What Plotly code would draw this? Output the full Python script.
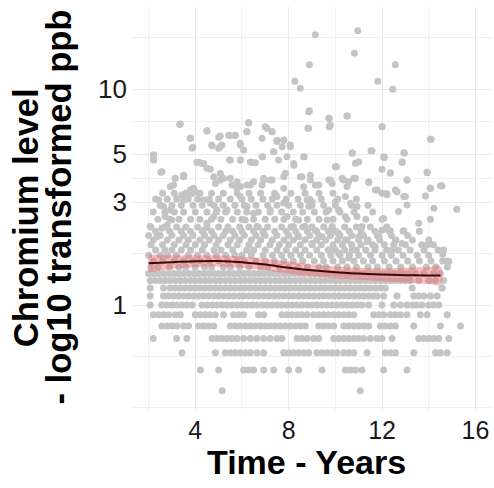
import plotly.graph_objects as go

# ---- data: quantised rows (value -> years) ----
row_0_4 = [5.15, 11.07]
row_0_5 = [4.22, 5.0, 6.07, 6.29, 6.5, 6.93, 7.36, 8.0, 8.43, 9.43, 10.43, 10.64, 10.86, 11.14, 12.07, 13.07]
row_0_6 = [3.43, 4.86, 5.29, 5.5, 5.72, 5.93, 6.14, 6.36, 6.64, 6.93, 7.79, 8.0, 8.21, 8.43, 8.64, 8.86, 9.21, 9.43,
           9.64, 9.86, 10.07, 10.36, 10.57, 10.79, 11.36, 12.14, 12.36, 12.57, 13.36, 14.29, 14.5, 14.79]
row_0_7 = [2.2, 3.2, 3.64, 4.72, 4.93, 5.14, 5.36, 5.57, 5.79, 6.07, 6.36, 6.64, 6.93, 7.21, 7.5, 7.71, 8.36, 8.57,
           8.79, 9.07, 9.29, 9.93, 10.14, 10.36, 10.57, 10.79, 11.0, 11.21, 11.5, 11.79, 12.0, 12.43, 13.57, 13.79,
           14.0, 14.21, 14.43, 14.86]
row_0_8 = [2.57, 2.79, 3.0, 3.21, 3.5, 3.71, 4.14, 4.36, 4.57, 4.79, 5.5, 5.72, 5.93, 6.14, 6.36, 6.57, 6.79, 7.0,
           7.21, 7.43, 7.64, 7.86, 8.07, 8.29, 8.5, 8.71, 9.29, 9.5, 9.71, 9.93, 10.36, 10.57, 10.79, 11.0, 11.21,
           11.43, 11.93, 12.14, 12.36, 12.57, 13.36, 14.5, 15.36]
row_0_9 = [2.2, 2.43, 2.64, 2.86, 3.14, 3.36, 4.0, 4.22, 4.43, 4.64, 4.86, 5.21, 5.64, 5.86, 6.07, 6.71, 6.93, 7.71,
           7.93, 8.14, 8.36, 8.57, 8.79, 9.07, 9.29, 9.5, 9.71, 9.93, 10.14, 10.36, 10.57, 10.79, 11.64, 11.86,
           12.07, 12.36, 12.57, 12.79, 13.07, 13.64, 13.93, 14.79]
row_1_0 = [2.07, 2.57, 2.79, 3.0, 3.21, 3.43, 3.64, 3.86, 4.29, 4.5, 4.71, 4.93, 5.14, 5.36, 5.57, 5.79, 6.0, 6.21,
           6.43, 6.64, 6.86, 7.07, 7.29, 7.5, 7.71, 7.93, 8.14, 8.36, 8.57, 8.79, 9.0, 9.21, 9.43, 9.64, 9.86, 10.07,
           10.29, 10.5, 10.71, 10.93, 11.14, 11.43, 12.0, 12.5, 12.79, 13.07, 13.29, 13.5, 13.71, 14.0, 14.21, 14.43]
row_1_1 = [2.07, 2.64, 2.86, 3.07, 3.29, 3.5, 3.71, 3.93, 4.14, 4.36, 4.57, 4.79, 5.0, 5.21, 5.43, 5.64, 5.86, 6.07,
           6.29, 6.5, 6.71, 6.93, 7.14, 7.36, 7.57, 7.79, 8.0, 8.21, 8.43, 8.64, 8.86, 9.07, 9.29, 9.5, 9.71, 9.93,
           10.14, 10.36, 10.57, 10.79, 11.0, 11.21, 11.43, 11.64, 11.79, 12.07, 12.64, 13.36, 13.57, 13.79, 14.07, 14.36]
row_1_2 = [2.07, 2.64, 2.93, 3.14, 3.36, 3.57, 3.79, 4.0, 4.21, 4.43, 4.64, 4.86, 5.07, 5.29, 5.5, 5.71, 5.93, 6.14,
           6.36, 6.57, 6.79, 7.0, 7.21, 7.43, 7.64, 7.86, 8.07, 8.29, 8.5, 8.71, 8.93, 9.14, 9.36, 9.57, 9.79, 10.0,
           10.21, 10.43, 10.64, 10.86, 11.07, 11.29, 11.5, 11.71, 11.93, 12.14, 13.29, 14.57]
row_1_3 = [2.07, 2.29, 2.5, 2.71, 2.93, 3.14, 3.36, 3.57, 3.79, 4.0, 4.21, 4.43, 4.64, 4.86, 5.07, 5.29, 5.5, 5.71,
           5.93, 6.14, 6.36, 6.57, 6.79, 7.0, 7.21, 7.43, 7.64, 7.86, 8.07, 8.29, 8.5, 8.71, 8.93, 9.14, 9.36, 9.57,
           9.79, 10.0, 10.21, 10.43, 10.64, 10.86, 11.07, 11.29, 11.5, 11.71, 11.93, 12.14, 12.36, 12.57, 12.79, 13.0,
           13.21, 13.57, 14.0, 14.29]
row_1_4 = [2.0, 2.21, 2.43, 2.64, 2.86, 3.07, 3.29, 3.5, 3.71, 3.93, 4.14, 4.36, 4.57, 4.79, 5.0, 5.21, 5.43, 5.64,
           5.86, 6.07, 6.29, 6.5, 6.71, 6.93, 7.14, 7.36, 7.57, 7.79, 8.0, 8.21, 8.43, 8.64, 8.86, 9.07, 9.29, 9.5,
           9.71, 9.93, 10.14, 10.36, 10.57, 10.79, 11.0, 11.21, 11.43, 11.64, 11.86, 12.07, 12.29, 12.5, 12.71, 12.93,
           13.14, 13.43, 13.79, 14.21, 14.5]
row_1_5 = [2.1, 2.4, 2.9, 3.3, 3.6, 4.0, 4.4, 4.7, 5.2, 5.5, 5.9, 6.3, 6.8, 7.1, 7.6, 8.0, 8.4, 8.8, 9.3, 9.6, 10.1,
           10.5, 10.9, 11.4, 11.8, 12.3, 12.8, 13.3, 13.9, 14.3, 14.8]
row_1_6 = [2.2, 2.6, 3.1, 3.5, 3.9, 4.2, 4.6, 5.0, 5.4, 5.8, 6.1, 6.6, 7.0, 7.4, 7.8, 8.2, 8.6, 9.1, 9.5, 9.9, 10.3,
           10.8, 11.2, 11.6, 12.1, 12.6, 13.1, 13.6, 14.1, 14.6]
row_1_7 = [2.0, 2.5, 2.8, 3.2, 3.7, 4.1, 4.5, 4.9, 5.3, 5.7, 6.0, 6.4, 6.9, 7.3, 7.7, 8.1, 8.5, 8.9, 9.4, 9.8, 10.2,
           10.6, 11.0, 11.5, 12.0, 12.4, 12.9, 13.5, 14.0]
row_1_8 = [2.3, 2.7, 3.0, 3.4, 3.8, 4.3, 4.8, 5.1, 5.6, 6.2, 6.5, 7.0, 7.5, 7.9, 8.3, 8.7, 9.2, 9.7, 10.0, 10.4, 10.9,
           11.3, 11.7, 12.2, 12.7, 13.2, 13.8, 14.4]
row_1_9 = [2.1, 2.6, 3.1, 3.6, 4.0, 4.4, 4.9, 5.4, 5.8, 6.3, 6.7, 7.2, 7.6, 8.0, 8.5, 9.0, 9.4, 9.9, 10.3, 10.7, 11.1,
           11.6, 12.1, 12.5, 13.0, 13.7, 14.2]
row_2_0 = [2.2, 2.8, 3.3, 3.7, 4.2, 4.6, 5.0, 5.5, 5.9, 6.4, 6.8, 7.3, 7.8, 8.2, 8.7, 9.2, 9.6, 10.1, 10.5, 11.0,
           11.4, 11.9, 12.6, 13.3, 14.0]
row_2_1 = [2.0, 2.5, 3.0, 3.5, 3.9, 4.4, 4.8, 5.2, 5.7, 6.1, 6.6, 7.0, 7.5, 8.0, 8.4, 8.9, 9.3, 9.8, 10.2, 10.7,
           11.2, 11.8, 12.4, 13.1]
row_2_2 = [2.3, 2.9, 3.4, 3.8, 4.3, 4.7, 5.3, 5.6, 6.0, 6.5, 6.9, 7.4, 7.9, 8.3, 8.8, 9.2, 9.7, 10.0, 10.6, 11.1,
           11.7, 12.3, 12.9, 13.6]
row_2_3 = [2.1, 2.7, 3.2, 3.6, 4.1, 4.5, 5.0, 5.4, 5.9, 6.3, 6.7, 7.1, 7.7, 8.1, 8.6, 9.0, 9.5, 10.4, 10.9, 11.5, 12.2]
row_2_5 = [2.4, 2.9, 3.3, 3.8, 4.2, 4.7, 5.1, 5.6, 6.0, 6.5, 7.0, 7.4, 7.8, 8.3, 8.8, 9.3, 9.9, 10.5, 11.3, 12.0]
row_2_7 = [2.2, 2.7, 3.1, 3.5, 4.0, 4.5, 4.9, 5.3, 5.8, 6.2, 6.7, 7.2, 7.7, 8.2, 8.6, 9.1, 9.6, 10.2, 10.8, 11.6]
row_2_9 = [2.5, 3.0, 3.4, 3.9, 4.3, 4.8, 5.2, 5.7, 6.1, 6.6, 7.1, 7.5, 8.0, 8.5, 9.0, 9.5, 10.0, 10.7, 11.4]
row_3_1 = [2.3, 2.8, 3.2, 3.7, 4.1, 4.6, 5.0, 5.5, 6.0, 6.4, 6.9, 7.3, 7.9, 8.4, 8.9, 9.4, 10.1, 10.9]
row_3_3 = [2.6, 3.1, 3.6, 4.2, 4.7, 5.2, 5.8, 6.3, 6.8, 7.4, 8.1, 8.7, 9.3, 9.9]

row_levels = [0.4, 0.5, 0.6, 0.7, 0.8, 0.9, 1.0, 1.1, 1.2, 1.3, 1.4, 1.5, 1.6, 1.7, 1.8, 1.9, 2.0, 2.1, 2.2, 2.3,
              2.5, 2.7, 2.9, 3.1, 3.3]
row_years = [row_0_4, row_0_5, row_0_6, row_0_7, row_0_8, row_0_9, row_1_0, row_1_1, row_1_2, row_1_3, row_1_4,
             row_1_5, row_1_6, row_1_7, row_1_8, row_1_9, row_2_0, row_2_1, row_2_2, row_2_3, row_2_5, row_2_7,
             row_2_9, row_3_1, row_3_3]

# ---- scattered higher values ----
upper_x = [9.14, 10.96, 10.82, 8.89, 12.57, 8.26, 8.5, 11.82, 12.46, 8.89, 9.74, 9.74, 10.5, 12.0, 8.82, 14.1,
           3.33, 6.29, 4.5, 3.79, 3.9, 2.22, 2.22, 2.53, 10.72, 11.53, 12.1, 12.96, 12.86, 13.93, 14.5, 14.07,
           13.07, 12.36, 10.05, 8.67, 8.23, 7.86, 7.36, 8.07, 4.07, 4.29, 4.5, 5.47, 5.93, 6.43, 6.89, 5.0, 5.43,
           5.72, 4.72, 5.07, 5.93, 6.07, 6.86, 7.07, 7.29, 7.5, 7.79, 7.72, 8.07, 6.21, 6.86, 6.93, 7.29, 7.79,
           8.5, 8.93, 9.29, 9.79, 10.36, 10.79, 10.5, 11.43, 11.79, 12.2, 12.64, 12.93, 3.14, 3.5, 2.93, 3.79,
           4.0, 4.79, 4.86, 5.07, 5.57, 5.79, 6.21, 6.5,
           8.86, 9.72, 9.79, 10.5, 8.86, 12.0, 14.07, 8.64, 10.72, 11.57, 12.93, 12.07, 10.86, 11.0, 10.0, 12.86,
           12.0, 12.36, 13.93, 14.57, 14.07, 8.57, 8.93, 9.14, 8.64, 9.72, 9.86, 10.29, 10.57, 10.86, 11.43, 11.71,
           12.0, 12.21, 12.57, 13.07, 13.0, 13.86, 14.22, 15.2, 13.07, 12.71, 14.07, 13.57, 12.07, 12.93, 12.36,
           13.93, 14.64, 14.86, 8.79, 8.86, 9.0, 10.0, 10.14, 9.72, 9.65, 10.43, 10.65, 10.93, 10.93, 10.43, 11.14,
           11.0, 11.36, 12.0, 11.86, 11.71, 12.57, 12.86, 12.43, 8.43, 8.71, 9.14, 8.43, 9.0, 9.43, 9.86, 10.14,
           10.43, 9.72, 10.14, 10.72, 10.57,
           3.36, 6.29, 4.5, 5.07, 3.79, 5.5, 5.7, 7.0, 7.29, 6.21, 4.71, 5.0, 5.14, 3.86, 5.93, 7.5, 7.79, 8.07,
           2.21, 2.21, 7.36, 5.5, 5.93, 6.36, 6.57, 6.86, 7.57, 7.93, 8.21, 4.14, 4.36, 4.64, 2.57, 3.14, 3.5, 3.07,
           5.07, 5.21, 3.93, 3.86, 3.43, 3.5, 5.5, 5.79, 5.93, 6.36, 6.93, 7.21, 7.79, 2.43, 2.64, 2.93, 2.71, 3.0,
           2.07, 2.36, 2.57, 2.79, 4.36, 4.64, 4.93, 5.36, 4.79, 4.5, 4.36, 5.93, 6.21, 6.5, 6.14, 6.64, 6.93, 7.21,
           7.5, 7.79, 7.93, 8.21, 14.6, 14.79, 14.64, 14.57]
upper_y = [17.9, 18.7, 14.7, 13.0, 13.0, 10.9, 10.1, 10.9, 10.0, 7.96, 7.34, 6.71, 7.52, 6.71, 6.6, 5.86,
           6.87, 7.0, 6.4, 5.93, 5.38, 4.96, 4.7, 4.12, 5.05, 5.19, 4.83, 5.05, 4.58, 4.12, 3.57, 3.48,
           3.8, 4.08, 4.38, 4.87, 4.45, 4.08, 5.13, 5.47, 4.58, 4.53, 4.3, 4.7, 4.7, 4.58, 4.87, 6.0, 6.13,
           6.13, 5.47, 5.42, 5.62, 5.23, 5.93, 6.6, 6.36, 5.8, 5.8, 5.42, 5.42, 6.36, 3.6, 3.8, 3.8, 3.93,
           3.93, 3.8, 3.6, 3.8, 3.8, 3.87, 3.54, 3.7, 3.41, 3.29, 3.35, 3.18, 3.87, 4.0, 3.54, 3.41,
           3.35, 3.93, 3.66, 3.8, 3.6, 3.48, 3.6, 3.73,
           7.87, 7.34, 6.83, 7.52, 6.6, 6.71, 5.86, 4.87, 5.08, 5.19, 5.08, 4.87, 4.54, 4.62, 4.38, 4.62,
           4.26, 4.1, 4.1, 3.56, 3.48, 3.93, 4.0, 3.6, 3.53, 3.8, 3.66, 3.87, 3.73, 3.87, 3.73, 3.41,
           3.3, 3.24, 3.41, 3.8, 3.18, 3.2, 2.81, 2.78, 2.91, 2.71, 2.5, 2.39, 2.52, 2.21, 2.21,
           1.9, 1.8, 1.59, 3.07, 2.86, 3.01, 3.01, 2.76, 2.76, 2.48, 3.18, 2.96, 2.86, 2.57, 2.57, 2.31,
           2.07, 1.97, 2.22, 2.07, 1.86, 2.0, 1.93, 1.8, 2.48, 2.31, 2.22, 2.07, 1.93, 2.07, 2.31, 2.15,
           2.0, 1.8, 1.74, 1.8, 1.65,
           6.9, 7.0, 6.43, 6.07, 5.93, 6.1, 6.1, 6.7, 6.36, 6.36, 5.52, 5.33, 5.52, 5.33, 5.52, 5.72, 5.82, 5.52,
           4.96, 4.7, 5.13, 4.7, 4.7, 4.6, 4.56, 4.87, 4.7, 4.87, 4.53, 4.6, 4.53, 4.26, 4.15, 3.87, 3.93, 3.6,
           4.07, 3.87, 3.48, 3.29, 3.24, 3.07, 3.87, 3.73, 3.54, 3.6, 3.87, 3.8, 3.48, 3.07, 2.86, 2.76, 2.57, 2.48,
           2.31, 2.07, 2.27, 2.35, 3.07, 2.97, 2.76, 2.76, 2.57, 2.4, 2.22, 3.18, 2.86, 2.66, 2.48, 2.31, 2.15, 2.76,
           3.18, 2.97, 2.57, 2.31, 1.72, 1.6, 1.3, 1.2]

# ---- smoothed trend with confidence band ----
fit_x = [2.0, 3.0, 4.0, 5.0, 6.0, 7.0, 8.0, 9.0, 10.0, 11.0, 12.0, 13.0, 14.0, 14.5]
fit_y = [1.56, 1.58, 1.595, 1.60, 1.58, 1.54, 1.49, 1.45, 1.42, 1.40, 1.385, 1.375, 1.37, 1.37]
fit_lo = [1.42, 1.47, 1.50, 1.51, 1.49, 1.45, 1.40, 1.36, 1.33, 1.31, 1.29, 1.27, 1.25, 1.24]
fit_hi = [1.72, 1.70, 1.70, 1.70, 1.68, 1.64, 1.59, 1.54, 1.51, 1.49, 1.48, 1.49, 1.50, 1.51]

x_ticks = [4, 8, 12, 16]
y_ticks = [1, 3, 5, 10]
y_tick_text = ["1", "3", "5", "10"]
y_minor = [0.3333, 0.5774, 1.7321, 3.873, 7.0711, 17.32]
x_minor = [2, 6, 10, 14]

pts_x, pts_y = [], []
for lvl, xs in zip(row_levels, row_years):
    pts_x.extend(xs)
    pts_y.extend([lvl] * len(xs))
pts_x.extend(upper_x)
pts_y.extend(upper_y)

FONT = "Liberation Sans, Arial, sans-serif"
fig = go.Figure()
fig.add_trace(go.Scatter(x=pts_x, y=pts_y, mode="markers",
                         marker=dict(color="#c4c4c4", size=7, line=dict(width=0)),
                         showlegend=False, hoverinfo="skip"))
fig.add_trace(go.Scatter(x=fit_x + fit_x[::-1], y=fit_hi + fit_lo[::-1], fill="toself",
                         fillcolor="rgba(240,95,95,0.42)", line=dict(width=0, shape="spline"),
                         mode="lines", showlegend=False, hoverinfo="skip"))
fig.add_trace(go.Scatter(x=fit_x, y=fit_y, mode="lines",
                         line=dict(color="#3d0808", width=2, shape="spline"),
                         showlegend=False))

fig.update_layout(
    width=494, height=488,
    margin=dict(l=132, r=2, t=7, b=78),
    paper_bgcolor="white", plot_bgcolor="white",
    font=dict(family=FONT, color="#1a1a1a"),
    xaxis=dict(range=[1.29, 16.71], tickvals=x_ticks, ticktext=[str(v) for v in x_ticks],
               showgrid=True, gridcolor="#ebebeb", gridwidth=1, zeroline=False, showline=False,
               tickfont=dict(size=25, color="#1a1a1a", family=FONT), ticks="", ticklabelstandoff=3,
               minor=dict(tickvals=x_minor, showgrid=True, gridcolor="#f0f0f0", gridwidth=1, ticks="")),
    yaxis=dict(type="log", range=[-0.4868, 1.3815], tickvals=y_ticks, ticktext=y_tick_text,
               showgrid=True, gridcolor="#ebebeb", gridwidth=1, zeroline=False, showline=False,
               tickfont=dict(size=26, color="#1a1a1a", family=FONT), ticks="", ticklabelstandoff=4,
               minor=dict(tickvals=y_minor, showgrid=True, gridcolor="#f0f0f0", gridwidth=1, ticks="")),
)

fig.add_annotation(text="<b>Time - Years</b>", xref="paper", yref="paper", x=0.485, y=-0.128,
                   xanchor="center", yanchor="middle", showarrow=False,
                   font=dict(size=34, family=FONT, color="black"))
fig.add_annotation(text="<b>Chromium level</b>", xref="paper", yref="paper", x=0, y=0.476,
                   xanchor="center", yanchor="middle", showarrow=False, textangle=-90, xshift=-106,
                   font=dict(size=34.5, family=FONT, color="black"))
fig.add_annotation(text="<b>- log10 transformed ppb</b>", xref="paper", yref="paper", x=0, y=0.5025,
                   xanchor="center", yanchor="middle", showarrow=False, textangle=-90, xshift=-73,
                   font=dict(size=34.5, family=FONT, color="black"))

fig.write_html("out.html", config={"displayModeBar": False},
               post_script="document.body.style.margin='0';document.body.style.padding='0';")
